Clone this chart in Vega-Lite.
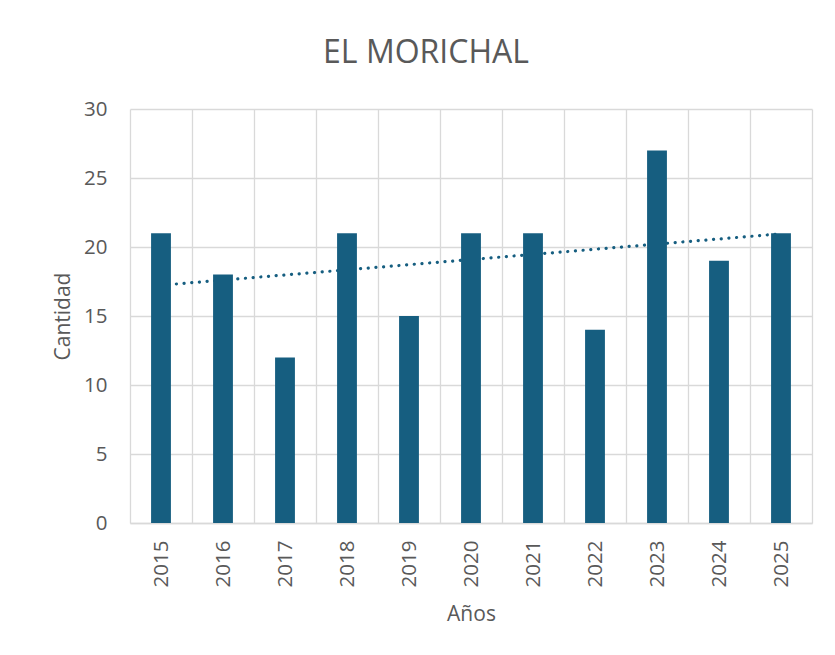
{
  "$schema": "https://vega.github.io/schema/vega-lite/v6.json",
  "autosize": {"type": "none"},
  "width": 682,
  "height": 414,
  "padding": {"left": 130, "top": 109, "right": 23, "bottom": 132},
  "background": "white",
  "title": {
    "text": "EL MORICHAL",
    "font": "Open Sans",
    "fontSize": 32,
    "fontWeight": "normal",
    "color": "#595959",
    "anchor": "middle",
    "frame": "group",
    "dx": -45,
    "dy": 37,
    "baseline": "bottom",
    "offset": 34
  },
  "data": {
    "values": [
      {"year": 2015, "cantidad": 21},
      {"year": 2016, "cantidad": 18},
      {"year": 2017, "cantidad": 12},
      {"year": 2018, "cantidad": 21},
      {"year": 2019, "cantidad": 15},
      {"year": 2020, "cantidad": 21},
      {"year": 2021, "cantidad": 21},
      {"year": 2022, "cantidad": 14},
      {"year": 2023, "cantidad": 27},
      {"year": 2024, "cantidad": 19},
      {"year": 2025, "cantidad": 21}
    ]
  },
  "config": {
    "view": {"stroke": null},
    "font": "Open Sans",
    "axis": {
      "labelFont": "Open Sans",
      "titleFont": "Open Sans",
      "labelColor": "#595959",
      "titleColor": "#595959",
      "labelFontSize": 20.5,
      "titleFontSize": 21,
      "titleFontWeight": "normal",
      "gridColor": "#d9d9d9",
      "gridWidth": 1.3,
      "ticks": false
    }
  },
  "encoding": {
    "x": {
      "field": "year",
      "type": "ordinal",
      "scale": {"paddingInner": 0, "paddingOuter": 0},
      "axis": {
        "title": "Años",
        "labelAngle": -90,
        "labelPadding": 17,
        "titlePadding": 17,
        "grid": true,
        "tickBand": "extent",
        "domainColor": "#d9d9d9",
        "domainWidth": 1.3
      }
    }
  },
  "layer": [
    {
      "transform": [
        {"regression": "cantidad", "on": "year", "method": "linear"}
      ],
      "mark": {
        "type": "line",
        "color": "#165E80",
        "strokeWidth": 3.2,
        "strokeDash": [0.1, 7.6],
        "strokeCap": "round"
      },
      "encoding": {
        "y": {"field": "cantidad", "type": "quantitative"}
      }
    },
    {
      "mark": {"type": "bar", "color": "#165E80", "width": {"band": 0.32}},
      "encoding": {
        "y": {
          "field": "cantidad",
          "type": "quantitative",
          "scale": {"domain": [0, 30]},
          "axis": {
            "title": "Cantidad",
            "values": [0, 5, 10, 15, 20, 25, 30],
            "labelPadding": 23,
            "titlePadding": 10,
            "domain": false,
            "grid": true
          }
        }
      }
    }
  ]
}
